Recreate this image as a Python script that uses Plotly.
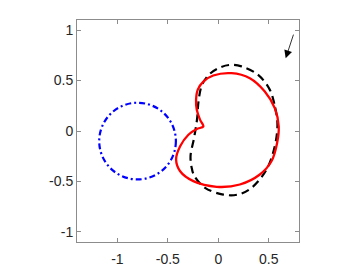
import plotly.graph_objects as go

# red kidney-shaped curve
red_x = [-0.148, -0.18, -0.213, -0.22, -0.203, -0.148, -0.05, 0.132, 0.313, 0.461, 0.56, 0.599,
         0.583, 0.527, 0.412, 0.214, -0.016, -0.247, -0.378, -0.418, -0.378, -0.296, -0.213, -0.148]
red_y = [0.045, 0.11, 0.21, 0.31, 0.41, 0.49, 0.55, 0.573, 0.523, 0.391, 0.227, 0.045,
         -0.118, -0.30, -0.431, -0.53, -0.553, -0.497, -0.399, -0.283, -0.152, -0.037, 0.02, 0.045]

# black dashed ellipse-like curve
blk_x = [0.586, 0.555, 0.51, 0.395, 0.23, 0.12, 0.03, -0.08, -0.16, -0.195, -0.21, -0.24,
         -0.275, -0.26, -0.235, -0.131, 0.05, 0.197, 0.33, 0.478, 0.56, 0.586]
blk_y = [0.08, 0.27, 0.41, 0.556, 0.64, 0.655, 0.635, 0.57, 0.46, 0.30, 0.12, -0.07,
         -0.25, -0.38, -0.45, -0.563, -0.63, -0.629, -0.563, -0.382, -0.152, 0.08]

# blue dash-dot circle: centre and radius
blue_center = (-0.8, -0.1)
blue_radius = 0.38

# arrow in the top right corner
arrow_tail = (0.75, 0.97)
arrow_head = (0.668, 0.72)

x_ticks = [-1, -0.5, 0, 0.5]
y_ticks = [-1, -0.5, 0, 0.5, 1]

fig = go.Figure()
fig.add_trace(go.Scatter(x=blk_x, y=blk_y, mode='lines',
                         line=dict(color='black', width=2.2, dash='8px,5px', shape='spline', smoothing=1)))
fig.add_trace(go.Scatter(x=red_x, y=red_y, mode='lines',
                         line=dict(color='red', width=2.3, shape='spline', smoothing=0.9)))

cx, cy = blue_center
fig.add_shape(type='circle', xref='x', yref='y',
              x0=cx - blue_radius, x1=cx + blue_radius,
              y0=cy - blue_radius, y1=cy + blue_radius,
              line=dict(color='blue', width=2.2, dash='6px,3px,2px,3px'))

fig.add_annotation(x=arrow_head[0], y=arrow_head[1], ax=arrow_tail[0], ay=arrow_tail[1],
                   xref='x', yref='y', axref='x', ayref='y', text='', showarrow=True,
                   arrowhead=2, arrowsize=2, arrowwidth=0.8, arrowcolor='black')

axis = dict(showgrid=False, zeroline=False, showline=True, linecolor='#8c8c8c', linewidth=1,
            mirror='ticks', ticks='inside', ticklen=4, tickcolor='#8c8c8c', automargin=False,
            tickfont=dict(family='Liberation Sans', size=14, color='#262626'))

fig.update_xaxes(range=[-1.4, 0.8], tickvals=x_ticks, ticktext=['-1', '-0.5', '0', '0.5'],
                 ticklabelstandoff=4, **axis)
fig.update_yaxes(range=[-1.1, 1.1], tickvals=y_ticks, ticktext=['-1', '-0.5', '0', '0.5', '1'], **axis)

# page body has an 8px margin, so the plot box is shifted back by that much
fig.update_layout(width=364, height=273, autosize=False, showlegend=False,
                  margin=dict(l=69, r=73, t=12, b=39),
                  paper_bgcolor='white', plot_bgcolor='white')

fig.write_html("out.html")
